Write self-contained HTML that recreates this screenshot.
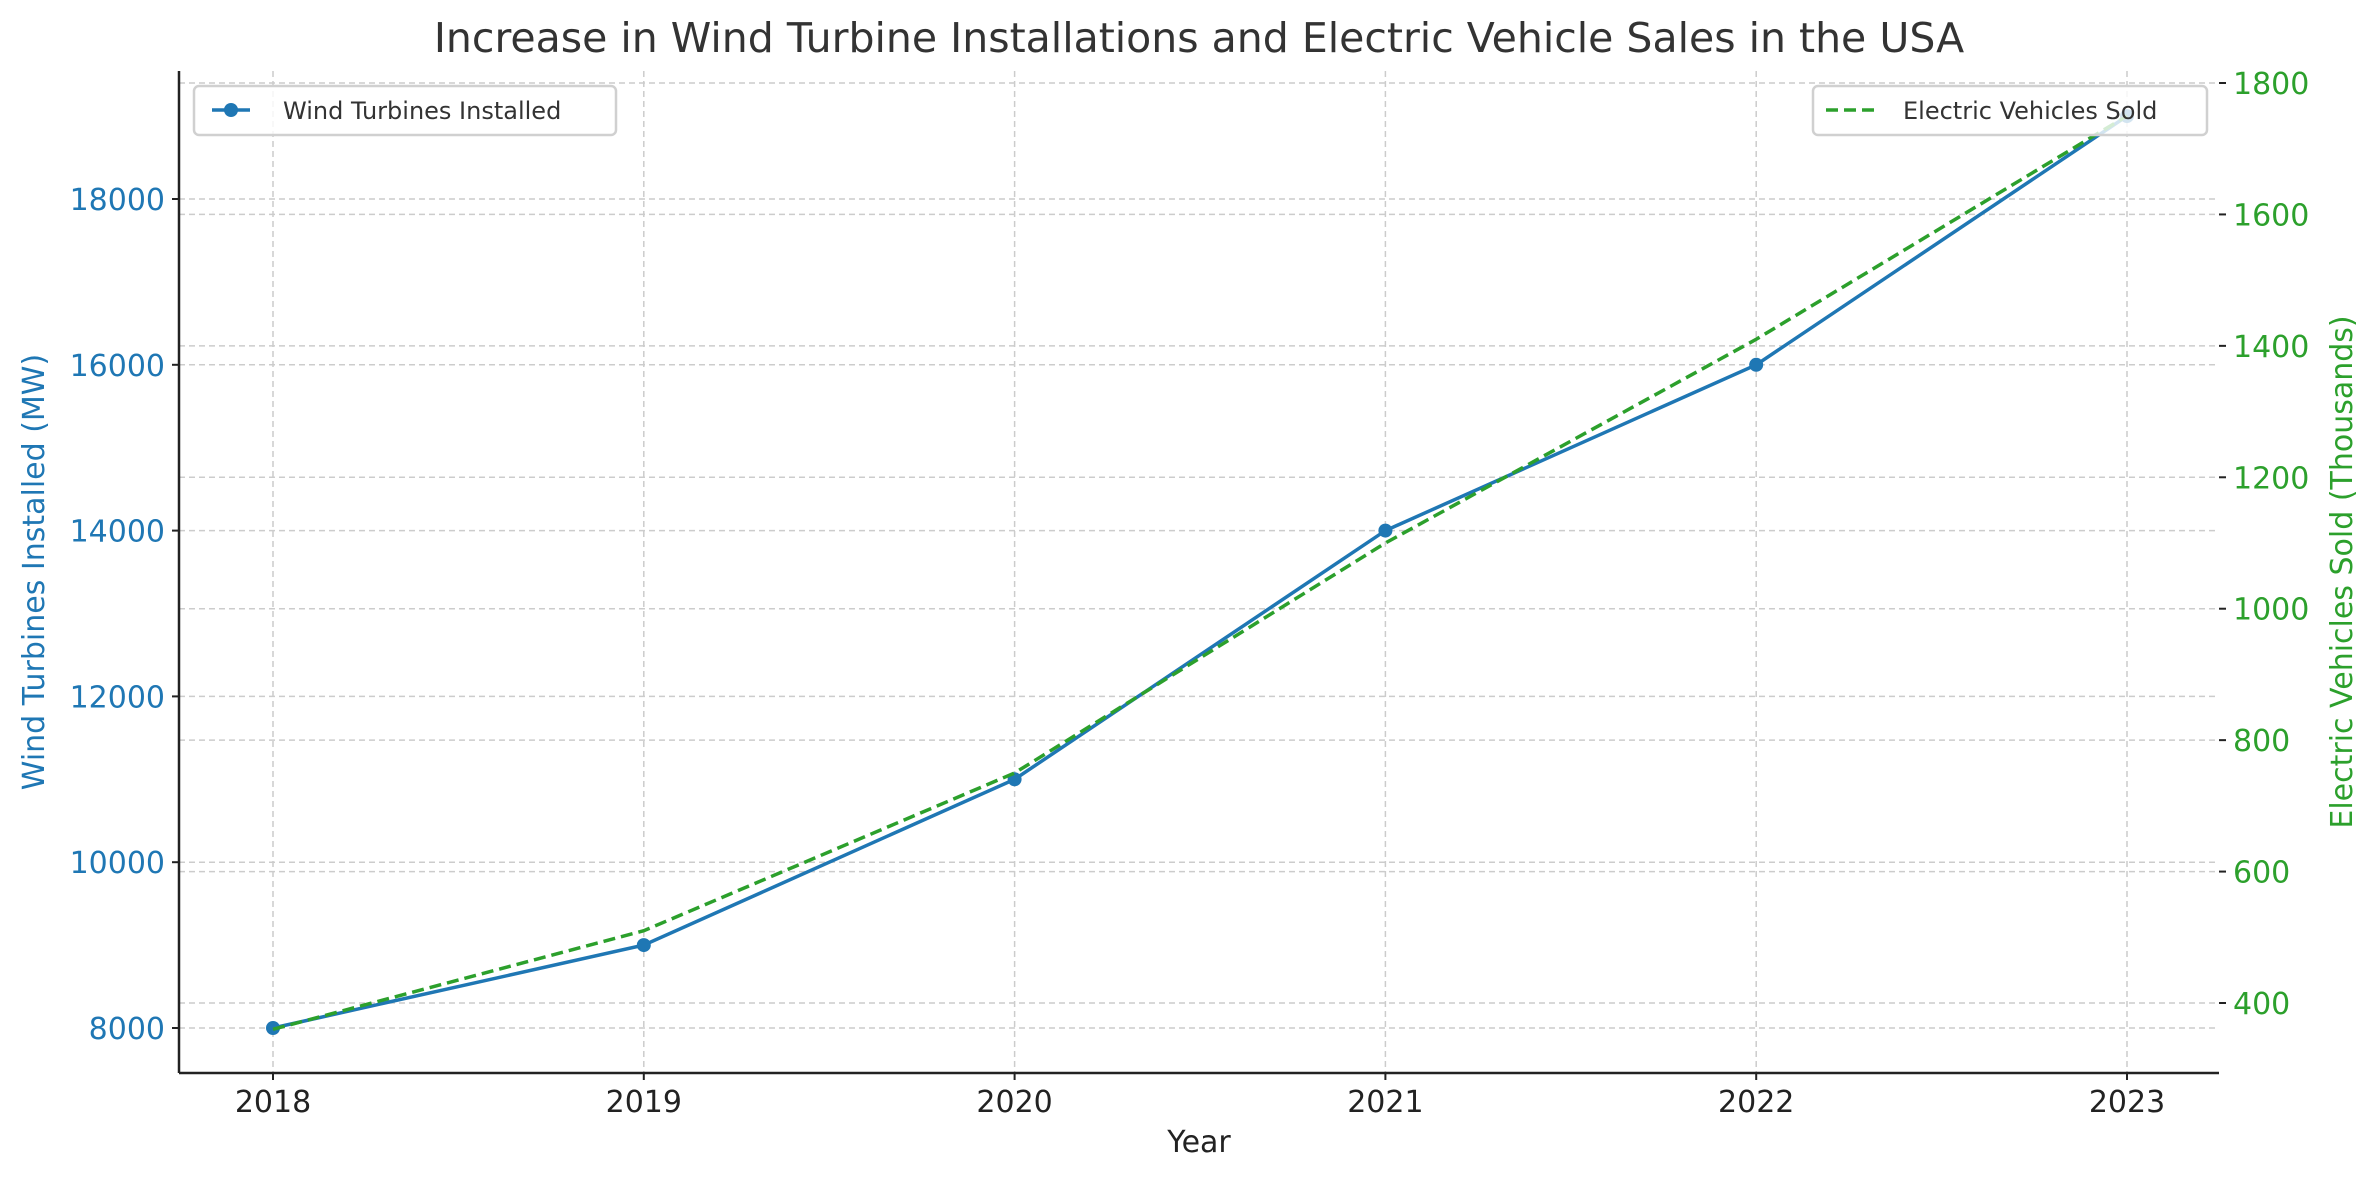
<!DOCTYPE html>
<html><head><meta charset="utf-8">
<style>
html,body{margin:0;padding:0;background:#fff;}
svg{display:block;font-family:"DejaVu Sans","Liberation Sans",sans-serif;}
</style></head>
<body>
<svg id="chart" width="2379" height="1180" viewBox="0 0 2379 1180" xmlns="http://www.w3.org/2000/svg">
<rect width="2379" height="1180" fill="#fff"/>
<text x="1199" y="52" text-anchor="middle" font-size="41" fill="#333">Increase in Wind Turbine Installations and Electric Vehicle Sales in the USA</text>
<g id="grid"></g>
<g id="series"></g>
<g id="axes"></g>
<text x="1199" y="1152" text-anchor="middle" font-size="30" fill="#222">Year</text>
<text transform="translate(44,572) rotate(-90)" text-anchor="middle" font-size="30" fill="#1f77b4">Wind Turbines Installed (MW)</text>
<text transform="translate(2352,572) rotate(-90)" text-anchor="middle" font-size="30" fill="#2ca02c">Electric Vehicles Sold (Thousands)</text>
<g>
<rect x="194" y="86" width="422" height="49" rx="5" fill="#fff" fill-opacity="0.8" stroke="#d0d0d0" stroke-width="2.5"/>
<line x1="212" y1="110" x2="250" y2="110" stroke="#1f77b4" stroke-width="3.5"/>
<circle cx="231" cy="110" r="7" fill="#1f77b4"/>
<text x="283" y="119" font-size="24" fill="#333">Wind Turbines Installed</text>
</g>
<g>
<rect x="1813" y="86" width="394" height="49" rx="5" fill="#fff" fill-opacity="0.8" stroke="#d0d0d0" stroke-width="2.5"/>
<line x1="1826" y1="110" x2="1875" y2="110" stroke="#2ca02c" stroke-width="3.5" stroke-dasharray="12,6"/>
<text x="1903" y="119" font-size="24" fill="#333">Electric Vehicles Sold</text>
</g>
</svg>
<script>
const years = [2018, 2019, 2020, 2021, 2022, 2023];
const windMW = [8000, 9000, 11000, 14000, 16000, 19000];
const evSold = [360, 510, 750, 1100, 1410, 1750];
const leftTicks = [8000, 10000, 12000, 14000, 16000, 18000];
const rightTicks = [400, 600, 800, 1000, 1200, 1400, 1600, 1800];

const L = 179, R = 2219, T = 71, B = 1073;
const NS = 'http://www.w3.org/2000/svg';
const xS = v => 273 + (v - 2018) * (2127 - 273) / 5;
const yL = v => 1028 - (v - 8000) * (1028 - 199) / 10000;
const yR = v => 1003 - (v - 400) * (1003 - 83) / 1400;

function mk(tag, attrs, parent, text) {
  const e = document.createElementNS(NS, tag);
  for (const k in attrs) e.setAttribute(k, attrs[k]);
  if (text !== undefined) e.textContent = text;
  parent.appendChild(e);
  return e;
}
const grid = document.getElementById('grid');
const axes = document.getElementById('axes');
const series = document.getElementById('series');
const gs = {stroke: '#cccccc', 'stroke-width': 1.5, 'stroke-dasharray': '6,4'};

years.forEach(y => {
  const x = xS(y);
  const g = mk('line', Object.assign({x1: x, x2: x, y1: T, y2: B}, gs), grid);
  
  
  mk('line', {x1: x, x2: x, y1: B, y2: B + 7, stroke: '#222', 'stroke-width': 2}, axes);
  const t = mk('text', {x: x, y: B + 39, 'text-anchor': 'middle', 'font-size': 30, fill: '#222'}, axes, String(y));
  
  
});
leftTicks.forEach(v => {
  const y = yL(v);
  const g = mk('line', Object.assign({x1: L, x2: R, y1: y, y2: y}, gs), grid);
  
  
  mk('line', {x1: L - 7, x2: L, y1: y, y2: y, stroke: '#222', 'stroke-width': 2}, axes);
  const t = mk('text', {x: L - 14, y: y + 11, 'text-anchor': 'end', 'font-size': 30, fill: '#1f77b4'}, axes, String(v));
  
  
});
rightTicks.forEach(v => {
  const y = yR(v);
  const g = mk('line', Object.assign({x1: L, x2: R, y1: y, y2: y}, gs), grid);
  
  
  mk('line', {x1: R, x2: R + 7, y1: y, y2: y, stroke: '#222', 'stroke-width': 2}, axes);
  const t = mk('text', {x: R + 14, y: y + 11, 'font-size': 30, fill: '#2ca02c'}, axes, String(v));
  
  
});
const ax1 = mk('line', {x1: L, x2: L, y1: T, y2: B, stroke: '#222', 'stroke-width': 2.5}, axes);


const ax2 = mk('line', {x1: L, x2: R, y1: B, y2: B, stroke: '#222', 'stroke-width': 2.5}, axes);



const wp = years.map((y, i) => xS(y) + ',' + yL(windMW[i])).join(' ');
const wl = mk('polyline', {points: wp, fill: 'none', stroke: '#1f77b4', 'stroke-width': 3.5}, series);


years.forEach((y, i) => {
  const c = mk('circle', {cx: xS(y), cy: yL(windMW[i]), r: 7, fill: '#1f77b4'}, series);
  
  
});
const ep = years.map((y, i) => xS(y) + ',' + yR(evSold[i])).join(' ');
const el = mk('polyline', {points: ep, fill: 'none', stroke: '#2ca02c', 'stroke-width': 3.5, 'stroke-dasharray': '12,6'}, series);


</script>
</body></html>
